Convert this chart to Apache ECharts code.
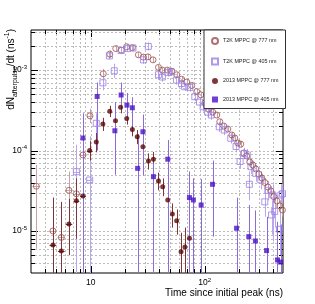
<!DOCTYPE html>
<html>
<head>
<meta charset="utf-8">
<script src="https://cdn.jsdelivr.net/npm/echarts@6/dist/echarts.min.js"></script>
<style>html,body{margin:0;padding:0;background:#fff}#c{width:315px;height:304px}</style>
</head>
<body>
<div id="c"></div>
<script>
// ---------- data ----------
const SERIES_NAMES = ['T2K MPPC @ 777 nm', 'T2K MPPC @ 405 nm', '2013 MPPC @ 777 nm', '2013 MPPC @ 405 nm'];

const T2K777_X  = [3.34,4.67,5.53,6.45,7.5,8.56,9.86,12.9,14.7,16.6,18.6,20.7,23.2,26.2,29.0,31.8,35.2,39.3,42.5,47.0,51.3,56.9,62.7,69.5,76.8,85.0,92.3,100,108.4,117.5,127.4,135.5,146.9,159.3,172.7,183.3,194.6,206.8,219.6,233.3,248.1,263.6,280,297.6,316,336,357,379,403,428,455,479];
const T2K777_Y  = [3.6e-5,1.0e-5,8.3e-6,3.2e-5,2.9e-5,8.8e-5,2.7e-4,9.0e-4,1.58e-3,1.85e-3,1.77e-3,1.95e-3,1.9e-3,1.55e-3,1.45e-3,1.46e-3,1.34e-3,1.08e-3,1.0e-3,1.0e-3,9.7e-4,8.75e-4,7.7e-4,7.1e-4,6.45e-4,5.4e-4,4.93e-4,3.89e-4,3.27e-4,3.0e-4,2.76e-4,2.28e-4,2.01e-4,1.85e-4,1.56e-4,1.43e-4,1.24e-4,1.2e-4,9.3e-5,8.55e-5,7.2e-5,6.6e-5,5.9e-5,5.1e-5,4.55e-5,4.0e-5,3.52e-5,3.14e-5,2.67e-5,2.36e-5,2.05e-5,1.82e-5];
const T2K777_LO = [6e-6,3e-6,3e-6,1.9e-5,1.4e-5,6.5e-5,2.2e-4,7.8e-4,1.42e-3,1.7e-3,1.63e-3,1.8e-3,1.76e-3,1.43e-3,1.34e-3,1.35e-3,1.24e-3,1.0e-3,9.3e-4,9.3e-4,9.0e-4,8.1e-4,7.1e-4,6.6e-4,6.0e-4,5.0e-4,4.55e-4,3.6e-4,3.02e-4,2.77e-4,2.55e-4,2.1e-4,1.85e-4,1.7e-4,1.43e-4,1.31e-4,1.13e-4,1.09e-4,8.4e-5,7.7e-5,6.5e-5,5.9e-5,5.25e-5,4.5e-5,4.0e-5,3.5e-5,3.05e-5,2.7e-5,2.28e-5,2.0e-5,1.72e-5,1.5e-5];
const T2K777_HI = [6.6e-5,2.5e-5,2.2e-5,5.5e-5,4.8e-5,1.15e-4,3.3e-4,1.03e-3,1.75e-3,2.0e-3,1.92e-3,2.1e-3,2.05e-3,1.68e-3,1.57e-3,1.58e-3,1.45e-3,1.17e-3,1.08e-3,1.08e-3,1.05e-3,9.4e-4,8.3e-4,7.7e-4,7.0e-4,5.85e-4,5.3e-4,4.2e-4,3.53e-4,3.24e-4,2.98e-4,2.47e-4,2.18e-4,2.0e-4,1.7e-4,1.56e-4,1.36e-4,1.32e-4,1.03e-4,9.5e-5,8.0e-5,7.4e-5,6.6e-5,5.75e-5,5.15e-5,4.55e-5,4.0e-5,3.6e-5,3.1e-5,2.75e-5,2.4e-5,2.15e-5];
const T2K777_XERR = [0.08,0.07,0.07,0.07,0.07,0.07,0.06];

const T2K405_X  = [7.5,9.8,11.2,12.8,14.6,16.1,18.5,21.0,23.5,29.0,32.0,39.3,42.5,47.6,51.0,56.5,62.5,66.8,74.0,81.8,90.0,96.7,106,114,134,148,169,188,204,222,236,246,254,280,310,336,357,385,394,410,452,465,480];
const T2K405_Y  = [5.45e-5,4.3e-5,2.18e-4,6.95e-4,1.5e-3,9.8e-4,1.75e-3,1.85e-3,1.88e-3,1.34e-3,1.97e-3,8.75e-4,8.2e-4,9.3e-4,9.5e-4,7.5e-4,6.8e-4,6.2e-4,6.1e-4,4.66e-4,4.0e-4,3.5e-4,3.0e-4,2.76e-4,1.97e-4,1.8e-4,1.42e-4,1.12e-4,7.3e-5,9.2e-5,8.8e-5,3.8e-5,6.3e-5,5.2e-5,4.3e-5,2.3e-5,3.2e-5,1.58e-5,2.8e-5,1.75e-5,1.05e-5,2.8e-5,2.9e-5];
const T2K405_LO = [1e-7,1e-7,1.5e-4,5.6e-4,1.35e-3,8.0e-4,1.6e-3,1.7e-3,1.72e-3,1.2e-3,1.75e-3,7.6e-4,7.2e-4,8.3e-4,8.5e-4,6.6e-4,6.0e-4,5.5e-4,5.4e-4,4.1e-4,3.5e-4,3.05e-4,2.6e-4,2.4e-4,1.7e-4,1.55e-4,1.22e-4,9.5e-5,6.0e-5,7.8e-5,7.4e-5,2.4e-5,5.1e-5,4.1e-5,3.3e-5,1.5e-5,2.4e-5,9e-6,7.4e-6,1.1e-5,5e-6,2.0e-5,2.1e-5];
const T2K405_HI = [1.18e-4,1.5e-4,2.9e-4,8.5e-4,1.68e-3,1.2e-3,1.92e-3,2.0e-3,2.05e-3,1.5e-3,2.2e-3,1.0e-3,9.3e-4,1.04e-3,1.06e-3,8.5e-4,7.7e-4,7.0e-4,6.9e-4,5.3e-4,4.55e-4,4.0e-4,3.45e-4,3.15e-4,2.28e-4,2.08e-4,1.65e-4,1.32e-4,8.8e-5,1.08e-4,1.04e-4,5.5e-5,7.7e-5,6.5e-5,5.5e-5,3.3e-5,4.2e-5,2.4e-5,3.8e-5,2.6e-5,1.7e-5,3.8e-5,3.9e-5];
const T2K405_XERR = [0.07,0.06];

const M2013_777_X  = [4.67,5.53,6.45,7.5,8.56,9.8,11.2,12.8,14.7,16.5,18.3,20.7,23.2,25.6,28.7,32.1,35.5,39.3,42.8,47.4,52.0,56.7,62.0,67.0,73.4];
const M2013_777_Y  = [6.7e-6,5.65e-6,1.22e-5,2.38e-5,2.72e-5,1.0e-4,1.28e-4,2.13e-4,3.07e-4,2.34e-4,3.44e-4,2.5e-4,1.83e-4,1.48e-4,1.11e-4,7.4e-5,7.8e-5,4.18e-5,3.55e-5,2.43e-5,1.63e-5,1.34e-5,5.5e-6,6.3e-6,8.1e-6];
const M2013_777_LO = [1e-7,1e-7,5e-6,8e-6,1.5e-5,7.5e-5,9.5e-5,1.75e-4,2.6e-4,1.95e-4,2.9e-4,2.1e-4,1.5e-4,1.2e-4,9e-5,5.8e-5,6.2e-5,3.2e-5,2.7e-5,1.8e-5,1.1e-5,9e-6,1e-7,1e-7,5.3e-6];
const M2013_777_HI = [2.6e-5,2.3e-5,2.5e-5,4.5e-5,4.0e-5,1.3e-4,1.65e-4,2.55e-4,3.6e-4,2.75e-4,4.0e-4,3.0e-4,2.2e-4,1.8e-4,1.35e-4,9.2e-5,9.6e-5,5.3e-5,4.5e-5,3.2e-5,2.2e-5,1.85e-5,9.5e-6,1.1e-5,1.25e-5];
const M2013_777_XERR = [0.07,0.07,0.07,0.06,0.06,0.06];

const M2013_405_X  = [8.56,11.4,16.3,18.5,20.8,23.2,25.8,28.7,35.5,47.4,73.4,79.5,93,117,190,243,278,348,434,462];
const M2013_405_Y  = [1.43e-4,4.7e-4,1.76e-4,4.9e-4,3.67e-4,3.4e-4,6.0e-5,1.71e-4,4.73e-5,7.8e-5,2.6e-5,2.43e-5,2.1e-5,3.8e-5,1.08e-5,8.5e-6,7.5e-6,5.7e-6,4.36e-6,4.1e-6];
const M2013_405_LO = [1e-7,1.0e-4,5e-5,3.5e-4,2.4e-4,2.0e-4,1e-7,4.9e-5,1e-7,1e-7,1e-7,3e-6,1e-7,8.5e-6,1e-7,1e-7,1e-7,1e-7,1e-7,1e-7];
const M2013_405_HI = [2.9e-4,7.0e-4,4.0e-4,7.0e-4,5.2e-4,4.6e-4,1.6e-4,2.8e-4,7e-5,1.35e-4,5.5e-5,4.5e-5,4.4e-5,7.5e-5,2.6e-5,2.1e-5,1.8e-5,1.5e-5,1.3e-5,1.2e-5];
const M2013_405_XERR = [];

// axis / grid values
const X_MIN = 3, X_MAX = 485, Y_MIN = 3e-6, Y_MAX = 3.15e-3;
const X_GRID = [4,5,6,7,8,9,10,20,30,40,50,60,70,80,90,100,200,300,400];
const X_MAJOR = [10,100];
const Y_GRID = [4e-6,5e-6,6e-6,7e-6,8e-6,9e-6,1e-5,2e-5,3e-5,4e-5,5e-5,6e-5,7e-5,8e-5,9e-5,1e-4,2e-4,3e-4,4e-4,5e-4,6e-4,7e-4,8e-4,9e-4,1e-3,2e-3,3e-3];
const Y_MAJOR = [1e-5,1e-4,1e-3];

// ---------- chart ----------
const FONT = 'Liberation Sans, Arial, Helvetica, sans-serif';
const chart = echarts.init(document.getElementById('c'), null, {renderer: 'canvas'});

function pack(xs, ys, lo, hi, xerr) {
  return xs.map((x, i) => {
    const f = xerr[i] || 0;
    return [x, ys[i], lo[i], hi[i], x / (1 + f), x * (1 + f)];
  });
}

function errSeries(name, data, color) {
  return {
    name: name, type: 'custom', coordinateSystem: 'cartesian2d', z: 2, silent: true,
    data: data,
    renderItem: function (params, api) {
      const cs = params.coordSys;
      const top = cs.y, bot = cs.y + cs.height;
      const x = api.value(0), y = api.value(1);
      const p = api.coord([x, y]);
      const clampY = v => Math.max(top, Math.min(bot, v));
      const pl = clampY(api.coord([x, api.value(2)])[1]);
      const ph = clampY(api.coord([x, api.value(3)])[1]);
      const px = Math.round(p[0]) + 0.5;
      const children = [{
        type: 'line', shape: {x1: px, y1: pl, x2: px, y2: ph},
        style: {stroke: color, lineWidth: 1}
      }];
      const xl = api.value(4), xh = api.value(5);
      if (xh > xl * 1.0001) {
        const a = api.coord([xl, y])[0], b = api.coord([xh, y])[0];
        const py = Math.round(p[1]) + 0.5;
        children.push({type: 'line', shape: {x1: a, y1: py, x2: b, y2: py}, style: {stroke: color, lineWidth: 1}});
      }
      return {type: 'group', children: children};
    }
  };
}

const gridData = X_GRID.map(v => [v, 1e-4, 0, X_MAJOR.indexOf(v) >= 0 ? 1 : 0])
  .concat(Y_GRID.map(v => [10, v, 1, Y_MAJOR.indexOf(v) >= 0 ? 1 : 0]));

const gridSeries = {
  name: 'grid', type: 'custom', coordinateSystem: 'cartesian2d', z: 1, silent: true,
  data: gridData,
  renderItem: function (params, api) {
    const cs = params.coordSys;
    const left = cs.x, right = cs.x + cs.width, top = cs.y, bot = cs.y + cs.height;
    const p = api.coord([api.value(0), api.value(1)]);
    const len = api.value(3) ? 7 : 4;
    const dash = {stroke: '#bdbdbd', lineWidth: 1, lineDash: [2, 2]};
    const tk = {stroke: '#000', lineWidth: 1};
    if (api.value(2) === 0) {
      const px = Math.round(p[0]) + 0.5;
      return {type: 'group', children: [
        {type: 'line', shape: {x1: px, y1: top, x2: px, y2: bot}, style: dash},
        {type: 'line', shape: {x1: px, y1: bot, x2: px, y2: bot - len}, style: tk},
        {type: 'line', shape: {x1: px, y1: top, x2: px, y2: top + len}, style: tk}
      ]};
    } else {
      const py = Math.round(p[1]) + 0.5;
      return {type: 'group', children: [
        {type: 'line', shape: {x1: left, y1: py, x2: right, y2: py}, style: dash},
        {type: 'line', shape: {x1: left, y1: py, x2: left + len, y2: py}, style: tk},
        {type: 'line', shape: {x1: right, y1: py, x2: right - len, y2: py}, style: tk}
      ]};
    }
  }
};

function powLabel(v, one) {
  const e = Math.round(Math.log10(v));
  if (Math.abs(Math.log10(v) - e) > 1e-6) return '';
  if (one && e === 1) return '{b|10}';
  return '{b|10}{s|' + e + '}';
}

const labelRich = {
  b: {fontSize: 8.5, fontFamily: FONT, color: '#000', lineHeight: 12},
  s: {fontSize: 6, fontFamily: FONT, color: '#000', verticalAlign: 'top'}
};

const C_T777 = '#9c4f4c', C_T405 = '#9a80e6', C_M777 = '#5a0808', C_M405 = '#4b12c8';

const option = {
  animation: false,
  backgroundColor: '#fff',
  grid: {left: 31, top: 30, width: 252, height: 243, show: true, borderColor: '#000', borderWidth: 1, backgroundColor: 'transparent'},
  xAxis: {
    type: 'log', logBase: 10, min: X_MIN, max: X_MAX,
    axisLine: {show: false}, axisTick: {show: false}, splitLine: {show: false}, minorTick: {show: false},
    axisLabel: {margin: 4, formatter: v => powLabel(v, true), rich: labelRich}
  },
  yAxis: {
    type: 'log', logBase: 10, min: Y_MIN, max: Y_MAX,
    axisLine: {show: false}, axisTick: {show: false}, splitLine: {show: false}, minorTick: {show: false},
    axisLabel: {margin: 4, formatter: v => powLabel(v, false), rich: labelRich}
  },
  legend: {
    data: SERIES_NAMES, orient: 'vertical', left: 204, top: 30,
    backgroundColor: '#fff', borderColor: '#333', borderWidth: 1,
    padding: [7, 7, 6, 7], itemGap: 12.5, itemWidth: 6, itemHeight: 6,
    selectedMode: false,
    textStyle: {fontSize: 5.4, fontFamily: FONT, color: '#222', padding: [0, 0, 0, 0]}
  },
  graphic: [
    {type: 'text', x: 11, y: 29, rotation: Math.PI / 2, z: 10,
      style: {text: '{m|dN}{s|afterpulse}{m|/dt (ns}{p|-1}{m|)}', align: 'right', verticalAlign: 'middle',
        rich: {
          m: {fontSize: 10, fontFamily: FONT, fill: '#000', lineHeight: 15},
          s: {fontSize: 7, fontFamily: FONT, fill: '#000', verticalAlign: 'bottom'},
          p: {fontSize: 7, fontFamily: FONT, fill: '#000', verticalAlign: 'top'}
        }}},
    {type: 'text', x: 283, y: 293, z: 10,
      style: {text: 'Time since initial peak (ns)', align: 'right', verticalAlign: 'middle', fontSize: 10, fontFamily: FONT, fill: '#000'}}
  ],
  series: [
    gridSeries,
    errSeries('e1', pack(T2K777_X, T2K777_Y, T2K777_LO, T2K777_HI, T2K777_XERR), '#c9a3a3'),
    errSeries('e2', pack(T2K405_X, T2K405_Y, T2K405_LO, T2K405_HI, T2K405_XERR), '#b9a6ee'),
    errSeries('e3', pack(M2013_777_X, M2013_777_Y, M2013_777_LO, M2013_777_HI, M2013_777_XERR), '#7d3535'),
    errSeries('e4', pack(M2013_405_X, M2013_405_Y, M2013_405_LO, M2013_405_HI, M2013_405_XERR), '#8c6cdc'),
    {name: SERIES_NAMES[0], type: 'scatter', z: 3, symbol: 'circle', symbolSize: 6,
      itemStyle: {color: 'rgba(255,255,255,0)', borderColor: C_T777, borderWidth: 1},
      data: T2K777_X.map((x, i) => [x, T2K777_Y[i]])},
    {name: SERIES_NAMES[1], type: 'scatter', z: 3, symbol: 'rect', symbolSize: 6,
      itemStyle: {color: 'rgba(255,255,255,0)', borderColor: C_T405, borderWidth: 1},
      data: T2K405_X.map((x, i) => [x, T2K405_Y[i]])},
    {name: SERIES_NAMES[2], type: 'scatter', z: 3, symbol: 'circle', symbolSize: 5,
      itemStyle: {color: C_M777},
      data: M2013_777_X.map((x, i) => [x, M2013_777_Y[i]])},
    {name: SERIES_NAMES[3], type: 'scatter', z: 3, symbol: 'rect', symbolSize: 5,
      itemStyle: {color: C_M405},
      data: M2013_405_X.map((x, i) => [x, M2013_405_Y[i]])}
  ]
};
chart.setOption(option);
</script>
</body>
</html>
